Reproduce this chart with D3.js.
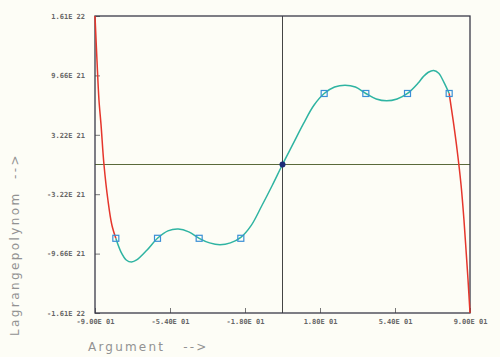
<!DOCTYPE html>
<html>
<head>
<meta charset="utf-8">
<script src="https://cdn.jsdelivr.net/npm/d3@7"></script>
<style>
  body { margin: 0; background: #fdfdf6; }
  #app { width: 500px; height: 357px; }
  .tick text { font-family: "DejaVu Sans Mono", monospace; font-size: 7px; font-weight: bold; fill: #666; }
  .tick line { stroke: #777; }
  .title { font-family: "DejaVu Sans", sans-serif; font-size: 12px; fill: #929292; letter-spacing: 2.2px; }
</style>
</head>
<body>
<div id="app"></div>
<script>
// values of y are in units of 1E21
const xTicks = [-90, -54, -18, 18, 54, 90]
const yTicks = [16.1, 9.66, 3.22, -3.22, -9.66, -16.1]

const nodeX = [-80, -60, -40, -20, 0, 20, 40, 60, 80]
const nodeY = [-8.0, -8.0, -8.0, -8.0, 0, 7.7, 7.7, 7.7, 7.7]

const curveX = [-90, -89.05, -88.1, -87.1, -85.7, -83.8, -81.9, -80, -77.5, -75, -72.5, -70, -65, -60,
  -55, -50, -45, -40, -35, -30, -25, -20, -15, -10, -5, 0, 5, 10, 15, 20, 25, 30, 35, 40,
  45, 50, 55, 60, 65, 67.5, 70, 72.5, 75, 77.5, 80, 81.9, 83.8, 85.7, 87.1, 88.1, 89.05, 90]
const curveY = [16.1, 11.3, 7.0, 4.3, 0, -3.85, -6.56, -8.0, -9.5, -10.35, -10.57, -10.35, -9.27, -8.0,
  -7.2, -7.0, -7.3, -8.0, -8.5, -8.7, -8.5, -7.9, -6.6, -4.5, -2.3, 0, 2.2, 4.4, 6.4, 7.7, 8.4, 8.6, 8.4, 7.7,
  7.1, 6.9, 7.1, 7.7, 8.8, 9.5, 10.0, 10.2, 9.9, 8.9, 7.7, 4.8, 1.6, -2.2, -6.0, -9.3, -12.5, -16.1]

const w = 500, h = 357
const padLeft = 95, padRight = 470, padTop = 16, padBottom = 313

// old plotter style: "9.66E 21"
const fmt = function(v) {
  const e = Math.floor(Math.log10(Math.abs(v)))
  const m = v / Math.pow(10, e)
  return m.toFixed(2) + 'E ' + String(e).padStart(2, '0')
}

const svg = d3.select('#app').append('svg')
              .attr('width', w)
              .attr('height', h)

const x = d3.scaleLinear().domain([-90, 90]).range([padLeft, padRight])
const y = d3.scaleLinear().domain([-16.1, 16.1]).range([padBottom, padTop])

// axes: ticks point inward, labels outside
svg.append('g')
   .attr('transform', 'translate(' + padLeft + ',0)')
   .call(d3.axisLeft(y).tickValues(yTicks).tickSize(-5).tickPadding(10)
           .tickFormat(d => fmt(d * 1e21)))
   .call(g => g.select('.domain').remove())

svg.append('g')
   .attr('transform', 'translate(0,' + padBottom + ')')
   .call(d3.axisBottom(x).tickValues(xTicks).tickSize(-5).tickPadding(6)
           .tickFormat(d => fmt(d)))
   .call(g => g.select('.domain').remove())

// cross lines through origin
svg.append('line')
   .attr('x1', x(0)).attr('x2', x(0))
   .attr('y1', padTop).attr('y2', padBottom)
   .attr('stroke', '#444').attr('stroke-width', 1)
svg.append('line')
   .attr('x1', padLeft).attr('x2', padRight)
   .attr('y1', y(0)).attr('y2', y(0))
   .attr('stroke', '#5a6a3a').attr('stroke-width', 1.2)

// frame
svg.append('rect')
   .attr('x', padLeft).attr('y', padTop)
   .attr('width', padRight - padLeft).attr('height', padBottom - padTop)
   .attr('fill', 'none').attr('stroke', '#3a3a48').attr('stroke-width', 1.3)

const pts = curveX.map((v, i) => [v, curveY[i]])
const xMin = d3.min(nodeX), xMax = d3.max(nodeX)
const line = d3.line().x(d => x(d[0])).y(d => y(d[1])).curve(d3.curveCatmullRom)

svg.append('path')
   .datum(pts.filter(d => d[0] >= xMin && d[0] <= xMax))
   .attr('d', line)
   .attr('fill', 'none').attr('stroke', '#2fb4a2').attr('stroke-width', 1.5)

svg.append('path')
   .datum(pts.filter(d => d[0] <= xMin))
   .attr('d', line)
   .attr('fill', 'none').attr('stroke', '#e5362c').attr('stroke-width', 1.5)
svg.append('path')
   .datum(pts.filter(d => d[0] >= xMax))
   .attr('d', line)
   .attr('fill', 'none').attr('stroke', '#e5362c').attr('stroke-width', 1.5)

// interpolation nodes, the one at the origin drawn as a dark dot
svg.selectAll('rect.node')
   .data(nodeX.map((v, i) => [v, nodeY[i]]).filter(d => d[0] !== 0))
   .enter()
   .append('rect')
   .attr('class', 'node')
   .attr('x', d => x(d[0]) - 3)
   .attr('y', d => y(d[1]) - 3)
   .attr('width', 6).attr('height', 6)
   .attr('fill', 'none')
   .attr('stroke', '#3a8fd6')
   .attr('stroke-width', 1.2)

svg.append('circle')
   .attr('cx', x(0)).attr('cy', y(0)).attr('r', 3)
   .attr('fill', '#1c2a78')

// axis titles
svg.append('text')
   .attr('class', 'title')
   .attr('x', 88).attr('y', 351)
   .style('white-space', 'pre')
   .text('Argument   -->')

svg.append('text')
   .attr('class', 'title')
   .attr('transform', 'translate(19,336) rotate(-90)')
   .style('letter-spacing', '2.4px')
   .style('white-space', 'pre')
   .text('Lagrangepolynom  -->')
</script>
</body>
</html>
